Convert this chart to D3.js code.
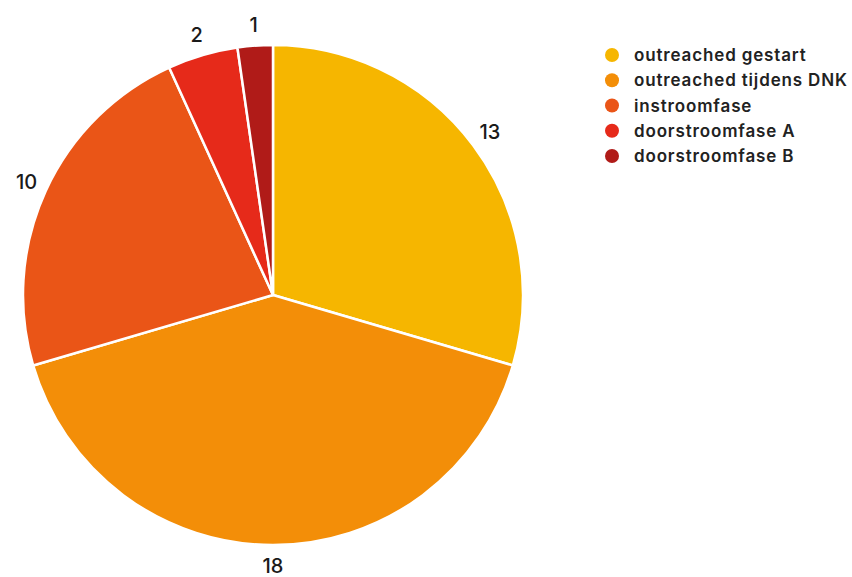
<!DOCTYPE html>
<html><head><meta charset="utf-8">
<script src="https://cdn.jsdelivr.net/npm/d3@7"></script>
<style>body{margin:0;background:#fff;}svg{display:block;font-family:Inter,"Noto Sans",sans-serif;}</style>
</head><body>
<svg id="c" width="852" height="577"></svg>
<script>
const categories = ["outreached gestart","outreached tijdens DNK","instroomfase","doorstroomfase A","doorstroomfase B"];
const values = [13,18,10,2,1];
const colors = ["#F6B600","#F38E08","#EA5517","#E62A1A","#B01B18"];

const svg = d3.select("#c");
const cx = 273, cy = 295, R = 250, LR = 271;
const pie = d3.pie().sort(null).value(d=>d)(values);
const arc = d3.arc().innerRadius(0).outerRadius(R);
const g = svg.append("g").attr("transform",`translate(${cx},${cy})`);
g.selectAll("path").data(pie).join("path")
  .attr("d",arc).attr("fill",(d,i)=>colors[i])
  .attr("stroke","#fff").attr("stroke-width",2.5).attr("stroke-linejoin","round");
const larc = d3.arc().innerRadius(LR).outerRadius(LR);
g.selectAll("text").data(pie).join("text")
  .attr("transform",d=>`translate(${larc.centroid(d)})`)
  .attr("text-anchor","middle").attr("dy","0.34em")
  .attr("font-size",20).attr("font-weight",500).attr("fill","#1a1a1a")
  .text(d=>d.data);

const leg = svg.append("g").attr("transform","translate(612,55)");
const y = d3.scalePoint().domain(categories).range([0,101]);
categories.forEach((c,i)=>{
  const r = leg.append("g").attr("transform",`translate(0,${y(c)})`);
  r.append("circle").attr("r",7).attr("fill",colors[i]);
  r.append("text").attr("x",22).attr("dy","0.36em").attr("font-size",17).attr("font-weight",600)
    .attr("letter-spacing",0.85).attr("fill","#222").text(c);
});
</script>
</body></html>
